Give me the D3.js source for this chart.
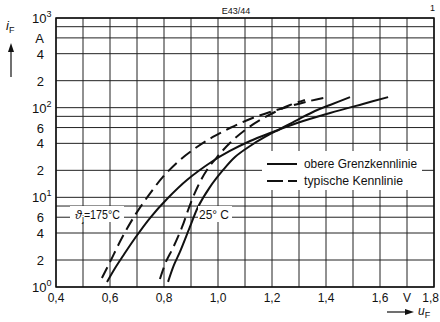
<!DOCTYPE html>
<html>
<head>
<meta charset="utf-8">
<script src="https://cdn.jsdelivr.net/npm/d3@7"></script>
<style>
  html, body { margin: 0; padding: 0; background: #fff; }
  svg { display: block; font-family: "Liberation Sans", Arial, sans-serif; }
</style>
</head>
<body>
<svg id="chart" width="440" height="322"></svg>
<script>
// Forward characteristics i_F = f(u_F) — diode E43/44
const xTickValues = [0.4, 0.6, 0.8, 1.0, 1.2, 1.4, 1.6, 1.8];
const xTickLabels = ["0,4", "0,6", "0,8", "1,0", "1,2", "1,4", "1,6", "1,8"];
const xGridValues = [0.4, 0.5, 0.6, 0.7, 0.8, 0.9, 1.0, 1.1, 1.2, 1.3, 1.4, 1.5, 1.6, 1.7, 1.8];
const yGridValues = [1, 2, 4, 6, 8, 10, 20, 40, 60, 80, 100, 200, 400, 600, 800, 1000];
const yTickValues = [1, 2, 4, 6, 10, 20, 40, 60, 100, 200, 400, 600, 1000];
const yTickLabels = ["10^0", "2", "4", "6", "10^1", "2", "4", "6", "10^2", "2", "4", "A", "10^3"];

// Upper limit curve, ϑj = 175 °C (u_F in V, i_F in A)
const upper175U = [0.589, 0.619, 0.648, 0.693, 0.748, 0.811, 0.885, 0.981, 1.044, 1.119, 1.193, 1.293, 1.415, 1.537, 1.630];
const upper175I = [1.14, 1.63, 2.22, 3.52, 5.88, 9.58, 15.6, 25.4, 32.9, 42.5, 52.2, 67.4, 87.1, 110, 131];
// Upper limit curve, ϑj = 25 °C
const upper25U = [0.815, 0.837, 0.859, 0.896, 0.926, 0.970, 1.019, 1.063, 1.119, 1.174, 1.230, 1.293, 1.359, 1.415, 1.489];
const upper25I = [1.14, 1.76, 2.46, 4.67, 7.80, 13.0, 20.2, 28.2, 37.4, 47.1, 57.8, 72.8, 91.8, 107, 131];
// Typical curve, ϑj = 175 °C
const typ175U = [0.570, 0.600, 0.644, 0.693, 0.741, 0.796, 0.859, 0.922, 0.981, 1.044, 1.119, 1.193, 1.267, 1.341, 1.407];
const typ175I = [1.26, 1.90, 3.52, 6.35, 10.3, 16.9, 26.1, 36.4, 47.1, 59.3, 74.8, 89.5, 104, 119, 131];
// Typical curve, ϑj = 25 °C
const typ25U = [0.785, 0.807, 0.833, 0.867, 0.896, 0.926, 0.959, 1.000, 1.044, 1.100, 1.156, 1.211, 1.267, 1.322];
const typ25I = [1.23, 1.90, 2.72, 4.67, 8.21, 13.4, 20.2, 28.9, 40.4, 56.3, 72.8, 89.5, 107, 122];

const legendLabels = ["obere Grenzkennlinie", "typische Kennlinie"];

const svg = d3.select("#chart");
const plotL = 56, plotR = 434, plotT = 18, plotB = 287;

const x = d3.scaleLinear().domain([0.4, 1.8]).range([plotL, plotR]);
const y = d3.scaleLog().domain([1, 1000]).range([plotB, plotT]);

const ink = "#111";

// grid
const grid = svg.append("g").attr("stroke", "#222").attr("stroke-width", 1);
grid.selectAll("line.v").data(xGridValues).join("line").attr("class", "v")
  .attr("x1", d => x(d)).attr("x2", d => x(d))
  .attr("y1", plotT).attr("y2", plotB);
grid.selectAll("line.h").data(yGridValues).join("line").attr("class", "h")
  .attr("x1", plotL).attr("x2", plotR)
  .attr("y1", d => y(d)).attr("y2", d => y(d));

// frame
svg.append("rect").attr("x", plotL).attr("y", plotT)
  .attr("width", plotR - plotL).attr("height", plotB - plotT)
  .attr("fill", "none").attr("stroke", ink).attr("stroke-width", 1.5);

// curves
const line = d3.line().x(d => x(d[0])).y(d => y(d[1])).curve(d3.curveCatmullRom.alpha(0.5));
const curves = [
  { u: upper175U, i: upper175I, dash: null },
  { u: upper25U, i: upper25I, dash: null },
  { u: typ175U, i: typ175I, dash: "12,6" },
  { u: typ25U, i: typ25I, dash: "12,6" }
];
svg.append("g").selectAll("path").data(curves).join("path")
  .attr("d", c => line(d3.zip(c.u, c.i)))
  .attr("fill", "none").attr("stroke", ink).attr("stroke-width", 2)
  .attr("stroke-dasharray", c => c.dash);

// temperature labels
svg.append("rect").attr("x", 70).attr("y", 206).attr("width", 54).attr("height", 16).attr("fill", "#fff");
svg.append("rect").attr("x", 198).attr("y", 206).attr("width", 34).attr("height", 16).attr("fill", "#fff");
const tl = svg.append("text").attr("x", 75).attr("y", 219).attr("font-size", 12.5).attr("fill", ink);
tl.append("tspan").attr("font-style", "italic").text("ϑ");
tl.append("tspan").attr("font-size", 9).attr("dy", 3).text("j");
tl.append("tspan").attr("dy", -3).attr("textLength", 36).attr("lengthAdjust", "spacingAndGlyphs").text("=175°C");
svg.append("text").attr("x", 199).attr("y", 219).attr("font-size", 12.5).attr("fill", ink)
  .attr("textLength", 30).attr("lengthAdjust", "spacingAndGlyphs").text("25° C");

// legend
svg.append("rect").attr("x", 262).attr("y", 151).attr("width", 160).attr("height", 39).attr("fill", "#fff");
const lg = svg.append("g");
const legendWidths = [113, 99];
legendLabels.forEach((t, k) => {
  const ly = 164 + k * 17;
  lg.append("line").attr("x1", 267).attr("x2", 297).attr("y1", ly).attr("y2", ly)
    .attr("stroke", ink).attr("stroke-width", 2)
    .attr("stroke-dasharray", k === 1 ? "16,5" : null);
  lg.append("text").attr("x", 304).attr("y", ly + 4).attr("font-size", 12.5).attr("fill", ink)
    .attr("textLength", legendWidths[k]).attr("lengthAdjust", "spacingAndGlyphs").text(t);
});

// y tick labels
const yl = svg.append("g").attr("font-size", 13).attr("fill", ink);
yTickValues.forEach((v, k) => {
  const s = yTickLabels[k];
  if (s.includes("^")) {
    const [b, e] = s.split("^");
    const t = yl.append("text").attr("x", 32).attr("y", y(v) + 5);
    t.append("tspan").text(b);
    t.append("tspan").attr("font-size", 9).attr("dy", -6).text(e);
  } else {
    yl.append("text").attr("x", 44).attr("y", y(v) + 5).attr("text-anchor", "end").text(s);
  }
});

// x tick labels (the last one is kept inside the page edge)
const xl = svg.append("g").attr("font-size", 12).attr("fill", ink);
xTickValues.forEach((v, k) => {
  const last = k === xTickValues.length - 1;
  xl.append("text").attr("x", last ? 439 : x(v)).attr("y", 302)
    .attr("text-anchor", last ? "end" : "middle").text(xTickLabels[k]);
});
xl.append("text").attr("x", x(1.7)).attr("y", 302).attr("text-anchor", "middle").text("V");

// axis names with arrows
const yn = svg.append("text").attr("x", 6).attr("y", 30).attr("font-size", 13).attr("fill", ink);
yn.append("tspan").attr("font-style", "italic").text("i");
yn.append("tspan").attr("font-size", 9).attr("dy", 3).text("F");
svg.append("line").attr("x1", 11).attr("x2", 11).attr("y1", 77).attr("y2", 50)
  .attr("stroke", ink).attr("stroke-width", 1.2);
svg.append("path").attr("d", "M11,43 L8,52 L14,52 Z").attr("fill", ink);

const xn = svg.append("text").attr("x", 418).attr("y", 315).attr("font-size", 12).attr("fill", ink);
xn.append("tspan").attr("font-style", "italic").text("u");
xn.append("tspan").attr("font-size", 9).attr("dy", 3).text("F");
svg.append("line").attr("x1", 387).attr("x2", 406).attr("y1", 312).attr("y2", 312)
  .attr("stroke", ink).attr("stroke-width", 1.2);
svg.append("path").attr("d", "M414,312 L405,309 L405,315 Z").attr("fill", ink);

// header
svg.append("text").attr("x", 236).attr("y", 14).attr("font-size", 9).attr("text-anchor", "middle").attr("fill", ink).text("E43/44");
svg.append("text").attr("x", 430).attr("y", 11).attr("font-size", 9).attr("fill", ink).text("1");
</script>
</body>
</html>
